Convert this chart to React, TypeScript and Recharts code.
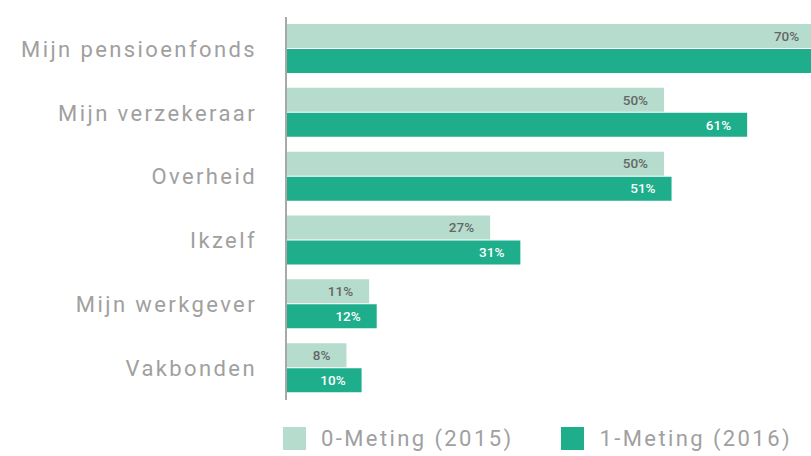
import React from 'react';
import { BarChart, Bar, XAxis, YAxis, Legend, LabelList } from 'recharts';

const categories = ['Mijn pensioenfonds', 'Mijn verzekeraar', 'Overheid', 'Ikzelf', 'Mijn werkgever', 'Vakbonden'];
const meting2015 = [70, 50, 50, 27, 11, 8];
const meting2016 = [77, 61, 51, 31, 12, 10];
const seriesNames = ['0-Meting (2015)', '1-Meting (2016)'];

const LIGHT = '#b5dccd';
const DARK = '#1eae8b';
const GRAY = '#a0a0a0';
const FONT = 'Roboto, sans-serif';

const data = categories.map((c, i) => ({ name: c, m2015: meting2015[i], m2016: meting2016[i] }));

const fmt = (v: any) => `${v}%`;

const renderLegend = (props: any) => {
  const items = props.payload || [];
  return (
    <div style={{ display: 'flex', alignItems: 'center', fontFamily: FONT }}>
      {items.map((it: any, i: number) => (
        <div key={i} style={{ display: 'flex', alignItems: 'center', marginRight: i === 0 ? 48 : 0 }}>
          <div style={{ width: 23, height: 23, background: it.color, marginRight: 15 }} />
          <span style={{ fontSize: 22, color: GRAY, letterSpacing: 2.4, fontWeight: 400 }}>{it.value}</span>
        </div>
      ))}
    </div>
  );
};

export default function App() {
  return (
    <div style={{ position: 'absolute', left: 0, top: 0, width: 811, height: 456, overflow: 'hidden', background: '#fff' }}>
      <BarChart
        width={1042}
        height={456}
        data={data}
        layout="vertical"
        margin={{ top: 17, right: 0, bottom: 56, left: 0 }}
        barSize={24}
        barGap={1}
      >
        <XAxis type="number" domain={[0, 100]} hide />
        <YAxis
          type="category"
          dataKey="name"
          width={286}
          tickLine={false}
          tickSize={0}
          tickMargin={29}
          axisLine={{ stroke: '#a8a8a8', strokeWidth: 2 }}
          tick={{ fill: GRAY, fontSize: 22, fontFamily: FONT, fontWeight: 400, letterSpacing: 2.4 }}
        />
        <Legend
          layout="horizontal"
          verticalAlign="middle"
          align="center"
          wrapperStyle={{ left: 283, top: 426, width: 600 }}
          content={renderLegend}
        />
        <Bar dataKey="m2015" name={seriesNames[0]} fill={LIGHT} isAnimationActive={false}>
          <LabelList dataKey="m2015" position="insideRight" offset={16} formatter={fmt}
            style={{ fill: '#666666', fontSize: 13.5, fontFamily: FONT, fontWeight: 500 }} />
        </Bar>
        <Bar dataKey="m2016" name={seriesNames[1]} fill={DARK} isAnimationActive={false}>
          <LabelList dataKey="m2016" position="insideRight" offset={16} formatter={fmt}
            style={{ fill: '#ffffff', fontSize: 13.5, fontFamily: FONT, fontWeight: 500 }} />
        </Bar>
      </BarChart>
    </div>
  );
}
